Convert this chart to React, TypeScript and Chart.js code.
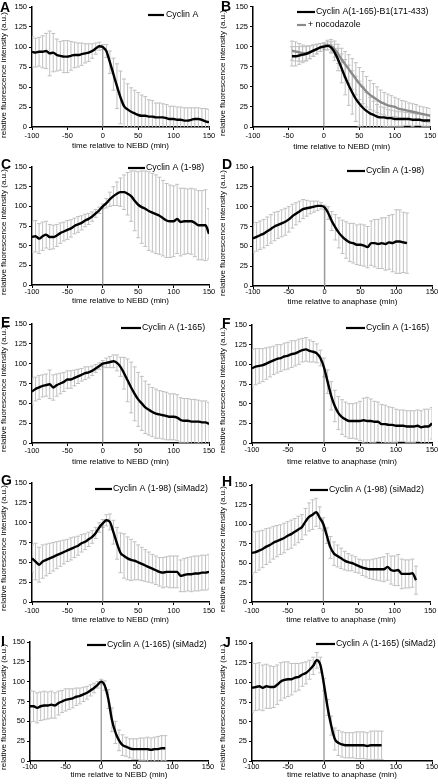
import React, { useEffect, useRef } from 'react';
import { Chart, registerables } from 'chart.js';
Chart.register(...registerables);

const FONT = '"Liberation Sans", Arial, Helvetica, sans-serif';
Chart.defaults.font.family = FONT;
Chart.defaults.color = '#000';

// ---- data ----
const T_FULL = [-100,-95,-90,-85,-80,-75,-70,-65,-60,-55,-50,-45,-40,-35,-30,-25,-20,-15,-10,-5,0,5,10,15,20,25,30,35,40,45,50,55,60,65,70,75,80,85,90,95,100,105,110,115,120,125,130,135,140,145,150];
const X_TICKS = [-100, -50, 0, 50, 100, 150];
const Y_TICKS = [0, 25, 50, 75, 100, 125, 150];
const Y_TITLE = 'relative fluorescence intensity (a.u.)';
const X_NEBD = 'time relative to NEBD (min)';
const X_ANA = 'time relative to anaphase (min)';

const A_MEAN = [94,93,94,94,95,92,93,90,89,88, 88,89,90,90,91,92,93,95,98,101, 100,95,81,66,51,37,26,22,19,17, 15,14,14,13,13,12,12,12,11,10, 10,9,9,8,8,9,10,10,9,7, 6];
const A_SD = [19,18,18,20,22,28,24,20,18,20, 20,18,16,15,14,12,11,9,7,5, 3,8,14,20,28,33,34,32,30,29, 28,26,24,21,20,18,18,17,17,16, 16,16,16,16,16,15,14,14,14,16, 16];

const B_MEAN = [88,88,89,90,91,93,95,97,99,100, 101,99,93,84,73,62,52,43,35,29, 24,20,17,15,13,12,12,11,11,10, 10,10,10,10,9,9,9,8,8,8];
const B_SD = [12,12,11,10,9,8,7,6,5,4, 5,7,10,14,18,22,25,27,28,28, 26,23,20,17,15,13,12,11,10,10, 9,9,8,8,8,7,7,7,7,7];
const B_NOC_MEAN = [95,94,93,92,92,93,95,97,99,101, 102,101,97,91,84,78,72,66,60,54, 49,44,40,37,34,31,29,27,26,25, 23,22,21,20,19,18,17,16,15,14];
const B_NOC_SD = [12,12,11,10,9,8,7,6,5,4, 6,8,10,12,14,16,18,19,20,20, 20,19,18,17,16,15,14,14,13,12, 12,11,11,10,10,10,9,9,9,9];

const C_MEAN = [61,62,59,62,64,61,61,63,66,68, 70,72,75,77,79,82,84,87,91,95, 100,104,109,113,116,118,118,116,113,107, 102,99,97,94,92,90,88,85,82,81, 81,84,80,81,81,81,79,76,76,76, 65];
const C_SD = [20,20,19,18,17,16,15,14,13,12, 12,11,10,10,9,8,7,6,5,4, 3,6,9,12,15,18,22,27,32,38, 42,46,48,50,50,50,49,48,47,46, 45,44,43,42,41,42,43,44,44,45, 32];

const D_MEAN = [60,62,64,66,69,72,75,77,79,81, 84,88,91,94,97,98,99,100,101,101, 99,92,82,74,67,62,58,55,54,52, 52,51,49,54,54,53,54,53,55,54, 56,56,55,54];
const D_SD = [18,18,18,18,18,18,18,17,17,17, 16,15,14,13,12,10,8,7,6,4, 3,8,12,16,19,21,23,24,25,25, 26,26,26,28,30,31,32,33,34,36, 40,40,38,38];

const E_MEAN = [65,68,70,72,73,74,70,73,75,77, 80,80,82,84,86,88,89,91,94,97, 100,101,102,103,101,96,88,79,70,62, 55,50,45,42,39,37,36,35,34,33, 33,32,29,28,28,27,27,27,26,26, 24];
const E_SD = [16,15,15,14,14,18,16,14,13,12, 11,11,10,9,8,8,7,6,5,4, 4,6,7,8,10,12,20,27,32,34, 34,34,33,32,31,31,30,30,30,29, 29,29,28,28,28,28,28,27,27,27, 27];

const F_MEAN = [95,97,98,99,101,103,105,107,108,110, 111,113,114,116,118,119,117,116,114,108, 96,78,60,47,38,33,30,28,28,28, 28,29,28,28,27,27,24,24,23,23, 22,22,22,21,21,21,22,20,21,21, 25];
const F_SD = [24,23,22,21,20,19,18,18,17,17, 17,17,16,16,15,15,14,13,12,10, 12,15,18,20,21,22,22,22,22,23, 25,28,30,28,26,25,25,24,23,22, 21,20,20,20,20,20,20,21,22,22, 20];

const G_MEAN = [55,51,47,51,53,55,57,59,61,63, 65,67,69,71,74,76,79,82,87,94, 99,103,101,88,74,62,58,55,53,52, 50,48,46,44,42,40,38,37,38,38, 38,38,33,34,35,35,36,36,37,37, 38];
const G_SD = [17,23,22,21,20,19,18,17,16,15, 14,14,13,12,11,10,9,8,7,6, 5,7,10,15,20,25,28,27,26,24, 22,21,20,19,18,18,18,19,19,20, 20,20,20,21,21,22,22,22,22,22, 22];

const H_MEAN = [63,64,66,68,71,73,76,78,80,82, 85,87,90,93,96,103,109,112,115,108, 100,85,70,62,59,56,53,51,50,48, 46,44,43,42,42,42,42,42,45,41, 40,41,36,36,36,37,28];
const H_SD = [27,26,25,24,23,22,21,20,19,19, 18,18,17,17,16,17,18,19,18,14, 8,10,14,15,14,13,12,11,10,10, 9,10,11,12,13,14,15,16,17,18, 19,20,19,18,18,18,18];

const I_MEAN = [69,69,67,69,70,70,71,70,73,75, 77,78,79,81,82,84,86,89,92,96, 100,95,78,52,36,26,20,18,16,15, 15,15,15,15,14,15,15,16,16];
const I_SD = [20,19,19,18,18,17,17,16,15,14, 14,13,12,11,10,9,8,7,6,4, 3,6,12,15,14,13,13,12,12,13, 13,14,14,15,15,15,16,16,16];

const J_MEAN = [93,94,95,93,95,94,94,97,101,103, 104,104,106,107,110,112,116,121,128,122, 97,68,45,28,23,21,20,20,20,20, 20,20,19,20,20,20,20];
const J_SD = [31,30,30,29,28,27,26,25,24,23, 22,20,18,17,15,14,12,11,10,10, 8,10,12,14,16,16,16,16,16,17, 17,17,17,18,18,18,18];

// ---- layout ----
const W = 219;
const H = 162;
const TICK_SIZE = 7.5;
const TITLE_SIZE = 8;
const LEGEND_SIZE = 8.8;
const ERR_COLOR = '#c0c0c0';

function times(start: number, n: number) {
  const i = T_FULL.indexOf(start);
  return T_FULL.slice(i, i + n);
}

type Series = { label: string; t: number[]; mean: number[]; sd: number[]; color: string };
type Leg = { x: number; y: number; l1: number; l2: number };
type PanelCfg = {
  letter: string; left: number; top: number; L: number; R: number; T: number; Bt: number;
  labelY: number; Ty: number; lx: number; ly: number; yTitleY: number; xTitle: string;
  series: Series[]; legend: Leg[]; zeroColor?: string; zeroWidth?: number;
};

const black = '#000000';
const gray = '#8a8a8a';

const PANELS: PanelCfg[] = [
  { letter: 'A', left: 0, top: 0, L: 32, R: 209, T: 7, Bt: 127, labelY: 136, Ty: 146, lx: 0, ly: 8, yTitleY: 75, xTitle: X_NEBD,
    series: [{ label: 'Cyclin A', t: times(-100, A_MEAN.length), mean: A_MEAN, sd: A_SD, color: black }],
    legend: [{ x: 166, y: 15, l1: 148, l2: 164 }] },
  { letter: 'B', left: 219, top: 0, L: 34, R: 213, T: 6, Bt: 127, labelY: 136, Ty: 147, lx: 2, ly: 7, yTitleY: 73, xTitle: X_NEBD,
    series: [
      { label: 'Cyclin A(1-165)-B1(171-433)', t: times(-45, B_MEAN.length), mean: B_MEAN, sd: B_SD, color: black },
      { label: '+ nocodazole', t: times(-45, B_NOC_MEAN.length), mean: B_NOC_MEAN, sd: B_NOC_SD, color: gray },
    ],
    legend: [{ x: 97, y: 12, l1: 78, l2: 96 }, { x: 89, y: 25, l1: 78, l2: 87 }] },
  { letter: 'C', left: 0, top: 155, L: 32, R: 209, T: 12, Bt: 130, labelY: 137, Ty: 146, lx: 1, ly: 10, yTitleY: 77, xTitle: X_NEBD,
    series: [{ label: 'Cyclin A (1-98)', t: times(-100, C_MEAN.length), mean: C_MEAN, sd: C_SD, color: black }],
    legend: [{ x: 146, y: 13, l1: 128, l2: 145 }] },
  { letter: 'D', left: 219, top: 155, L: 34, R: 213, T: 12, Bt: 131, labelY: 137, Ty: 147, lx: 3, ly: 10, yTitleY: 78, xTitle: X_ANA,
    series: [{ label: 'Cyclin A (1-98)', t: times(-100, D_MEAN.length), mean: D_MEAN, sd: D_SD, color: black }],
    legend: [{ x: 147, y: 16, l1: 128, l2: 146 }], zeroColor: '#9a9a9a', zeroWidth: 1.5 },
  { letter: 'E', left: 0, top: 310, L: 32, R: 209, T: 14, Bt: 133, labelY: 141, Ty: 152, lx: 1, ly: 13, yTitleY: 79, xTitle: X_NEBD,
    series: [{ label: 'Cyclin A (1-165)', t: times(-100, E_MEAN.length), mean: E_MEAN, sd: E_SD, color: black }],
    legend: [{ x: 142, y: 18, l1: 121, l2: 141 }] },
  { letter: 'F', left: 219, top: 310, L: 33, R: 213, T: 15, Bt: 133, labelY: 140, Ty: 152, lx: 3, ly: 14, yTitleY: 80, xTitle: X_ANA,
    series: [{ label: 'Cyclin A (1-165)', t: times(-100, F_MEAN.length), mean: F_MEAN, sd: F_SD, color: black }],
    legend: [{ x: 147, y: 18, l1: 127, l2: 146 }] },
  { letter: 'G', left: 0, top: 465, L: 32, R: 209, T: 18, Bt: 137, labelY: 146, Ty: 155, lx: 1, ly: 16, yTitleY: 83, xTitle: X_NEBD,
    series: [{ label: 'Cyclin A (1-98) (siMad2)', t: times(-100, G_MEAN.length), mean: G_MEAN, sd: G_SD, color: black }],
    legend: [{ x: 113, y: 24, l1: 95, l2: 112 }] },
  { letter: 'H', left: 219, top: 465, L: 33, R: 212, T: 20, Bt: 137, labelY: 146, Ty: 155, lx: 3, ly: 17, yTitleY: 84, xTitle: X_ANA,
    series: [{ label: 'Cyclin A (1-98) (siMad2)', t: times(-100, H_MEAN.length), mean: H_MEAN, sd: H_SD, color: black }],
    legend: [{ x: 110, y: 25, l1: 91, l2: 109 }] },
  { letter: 'I', left: 0, top: 620, L: 30, R: 208, T: 22, Bt: 141, labelY: 147, Ty: 155, lx: 1, ly: 22, yTitleY: 87, xTitle: X_NEBD,
    series: [{ label: 'Cyclin A (1-165) (siMad2)', t: times(-100, I_MEAN.length), mean: I_MEAN, sd: I_SD, color: black }],
    legend: [{ x: 107, y: 25, l1: 87, l2: 106 }] },
  { letter: 'J', left: 219, top: 620, L: 33, R: 213, T: 23, Bt: 141, labelY: 147, Ty: 155, lx: 4, ly: 23, yTitleY: 87, xTitle: X_ANA,
    series: [{ label: 'Cyclin A (1-165) (siMad2)', t: times(-100, J_MEAN.length), mean: J_MEAN, sd: J_SD, color: black }],
    legend: [{ x: 117, y: 24, l1: 97, l2: 116 }] },
];

function errPoints(t: number[], m: number[], s: number[]) {
  const pts: { x: number; y: number | null }[] = [];
  t.forEach((x, i) => {
    pts.push({ x, y: m[i] - s[i] }, { x, y: m[i] + s[i] }, { x, y: null });
  });
  return pts;
}

function Panel({ cfg }: { cfg: PanelCfg }) {
  const ref = useRef<HTMLCanvasElement>(null);
  useEffect(() => {
    const canvas = ref.current;
    if (!canvas) return;
    const datasets: any[] = [];
    cfg.series.forEach((s, k) => {
      datasets.push({
        label: s.label,
        data: s.t.map((x, i) => ({ x, y: s.mean[i] })),
        borderColor: s.color, borderWidth: 2.4, pointRadius: 0,
        cubicInterpolationMode: 'monotone', fill: false, order: k,
      });
    });
    const s0 = cfg.series[0];
    const i0 = s0.t.indexOf(0);
    datasets.push({
      label: 'zero',
      data: [{ x: 0, y: 0 }, { x: 0, y: s0.mean[i0] }],
      borderColor: cfg.zeroColor ?? '#7a7a7a', borderWidth: cfg.zeroWidth ?? 1,
      pointRadius: 0, fill: false, order: 10,
    });
    cfg.series.forEach((s, k) => {
      datasets.push({
        label: s.label + ' sd',
        data: errPoints(s.t, s.mean, s.sd),
        borderColor: ERR_COLOR, borderWidth: 1, tension: 0,
        pointStyle: 'line', pointRadius: 2, pointBorderColor: ERR_COLOR, pointBorderWidth: 1,
        spanGaps: false, fill: false, order: 20 + k,
      });
    });

    const titleLH = TITLE_SIZE * 1.2;
    const xH = cfg.Ty + titleLH / 2 - cfg.Bt;
    const gridOpts = { drawOnChartArea: false, drawTicks: true, tickLength: 3, color: '#000', lineWidth: 1 };
    const borderOpts = { color: '#000', width: 1.5 };

    const annot = {
      id: 'annot',
      afterDraw(chart: any) {
        const ctx = chart.ctx as CanvasRenderingContext2D;
        ctx.save();
        ctx.fillStyle = '#000';
        ctx.textBaseline = 'middle';
        ctx.textAlign = 'left';
        ctx.font = `bold 14px ${FONT}`;
        ctx.fillText(cfg.letter, cfg.lx, cfg.ly);
        cfg.legend.forEach((lg, k) => {
          const s = cfg.series[k];
          ctx.strokeStyle = s.color;
          ctx.lineWidth = 2.2;
          ctx.beginPath();
          ctx.moveTo(lg.l1, lg.y);
          ctx.lineTo(lg.l2, lg.y);
          ctx.stroke();
          ctx.font = `${LEGEND_SIZE}px ${FONT}`;
          ctx.fillStyle = '#000';
          ctx.fillText(s.label, lg.x, lg.y);
        });
        // y-axis title
        ctx.save();
        ctx.translate(4, cfg.yTitleY);
        ctx.rotate(-Math.PI / 2);
        ctx.textAlign = 'center';
        ctx.textBaseline = 'middle';
        ctx.font = `${TITLE_SIZE}px ${FONT}`;
        ctx.fillText(Y_TITLE, 0, 0);
        ctx.restore();
        ctx.restore();
      },
    };

    const chart = new Chart(canvas, {
      type: 'line',
      data: { datasets },
      options: {
        animation: false,
        responsive: false,
        devicePixelRatio: 1,
        events: [],
        layout: { padding: { left: 0, top: cfg.T, right: W - cfg.R, bottom: H - cfg.Bt - xH } },
        plugins: { legend: { display: false }, tooltip: { enabled: false } },
        scales: {
          x: {
            type: 'linear',
            min: X_TICKS[0], max: X_TICKS[X_TICKS.length - 1],
            afterFit: (s: any) => { s.height = xH; },
            ticks: {
              stepSize: X_TICKS[1] - X_TICKS[0], autoSkip: false, maxRotation: 0,
              font: { size: TICK_SIZE }, color: '#000',
              padding: cfg.labelY - cfg.Bt - 3 - TICK_SIZE * 0.6,
            },
            grid: gridOpts,
            border: borderOpts,
            title: { display: true, text: cfg.xTitle, font: { size: TITLE_SIZE }, color: '#000', padding: 0 },
          },
          y: {
            type: 'linear',
            min: Y_TICKS[0], max: Y_TICKS[Y_TICKS.length - 1],
            afterFit: (s: any) => { s.width = cfg.L; },
            ticks: { stepSize: Y_TICKS[1] - Y_TICKS[0], font: { size: TICK_SIZE }, color: '#000', padding: 2 },
            grid: gridOpts,
            border: borderOpts,
            title: { display: false, text: Y_TITLE },
          },
        },
      } as any,
      plugins: [annot],
    });
    return () => chart.destroy();
  }, [cfg]);
  return (
    <canvas
      ref={ref}
      width={W}
      height={H}
      style={{ position: 'absolute', left: cfg.left, top: cfg.top, width: W, height: H }}
    />
  );
}

export default function App() {
  return (
    <div style={{ position: 'absolute', left: 0, top: 0, width: 438, height: 784, background: '#fff', overflow: 'hidden' }}>
      {PANELS.map((p) => (
        <Panel key={p.letter} cfg={p} />
      ))}
    </div>
  );
}
